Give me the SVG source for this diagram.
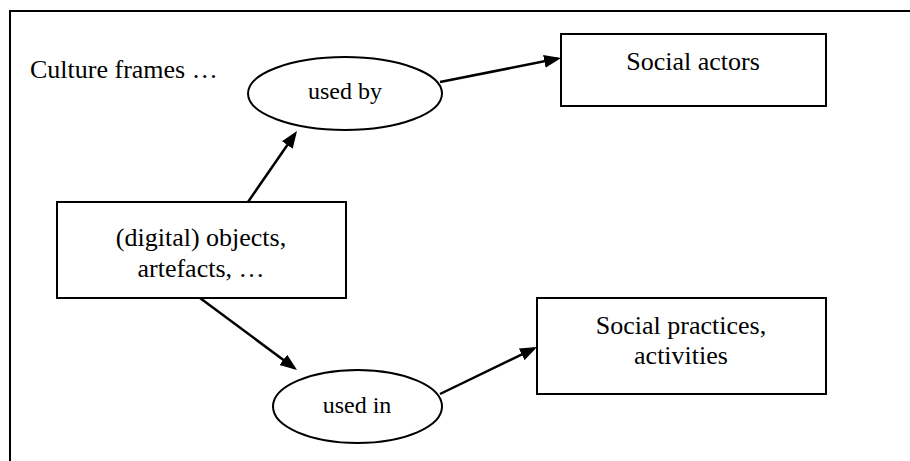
<svg xmlns="http://www.w3.org/2000/svg" width="910" height="461" viewBox="0 0 910 461">
<style>
  .box { fill: #fff; stroke: #000; stroke-width: 2; }
  .ell { fill: #fff; stroke: #000; stroke-width: 2; }
  text { font-family: "Liberation Serif", "Times New Roman", serif; fill: #000; }
  .t { font-size: 26px; }
  .te { font-size: 24px; text-anchor: middle; }
  .c { text-anchor: middle; }
  .conn line { stroke: #000; stroke-width: 2.5; marker-end: url(#arr); }
  .frame { fill: none; stroke: #000; stroke-width: 2; }
</style>
<defs>
  <marker id="arr" markerUnits="userSpaceOnUse" markerWidth="17" markerHeight="14" refX="14" refY="7" orient="auto">
    <path d="M0,0.5 L17,7 L0,13.5 z" fill="#000"/>
  </marker>
</defs>
<rect width="910" height="461" fill="#fff"/>
<path class="frame" d="M910,11 L10,11 L10,461"/>
<text class="t" x="30" y="78">Culture frames …</text>
<g id="used-by">
  <ellipse class="ell" cx="345" cy="93.5" rx="97" ry="36.5"/>
  <text class="te" x="345" y="99">used by</text>
</g>
<g id="social-actors">
  <rect class="box" x="561" y="34" width="265" height="72"/>
  <text class="t c" x="693" y="70">Social actors</text>
</g>
<g id="objects">
  <rect class="box" x="57" y="202" width="289" height="96"/>
  <text class="t c" x="201" y="246">(digital) objects,</text>
  <text class="t c" x="201" y="277">artefacts, …</text>
</g>
<g id="used-in">
  <ellipse class="ell" cx="357.5" cy="406.5" rx="84.5" ry="36.5"/>
  <text class="te" x="357" y="413">used in</text>
</g>
<g id="social-practices">
  <rect class="box" x="537" y="298" width="289" height="96"/>
  <text class="t c" x="681" y="334">Social practices,</text>
  <text class="t c" x="681" y="364">activities</text>
</g>
<g id="connectors" class="conn">
  <line x1="248" y1="202" x2="295.3" y2="133.5"/>
  <line x1="440" y1="82" x2="558.1" y2="58.6"/>
  <line x1="200" y1="298" x2="294.6" y2="368.2"/>
  <line x1="440" y1="394" x2="534.3" y2="348.3"/>
</g>
</svg>
